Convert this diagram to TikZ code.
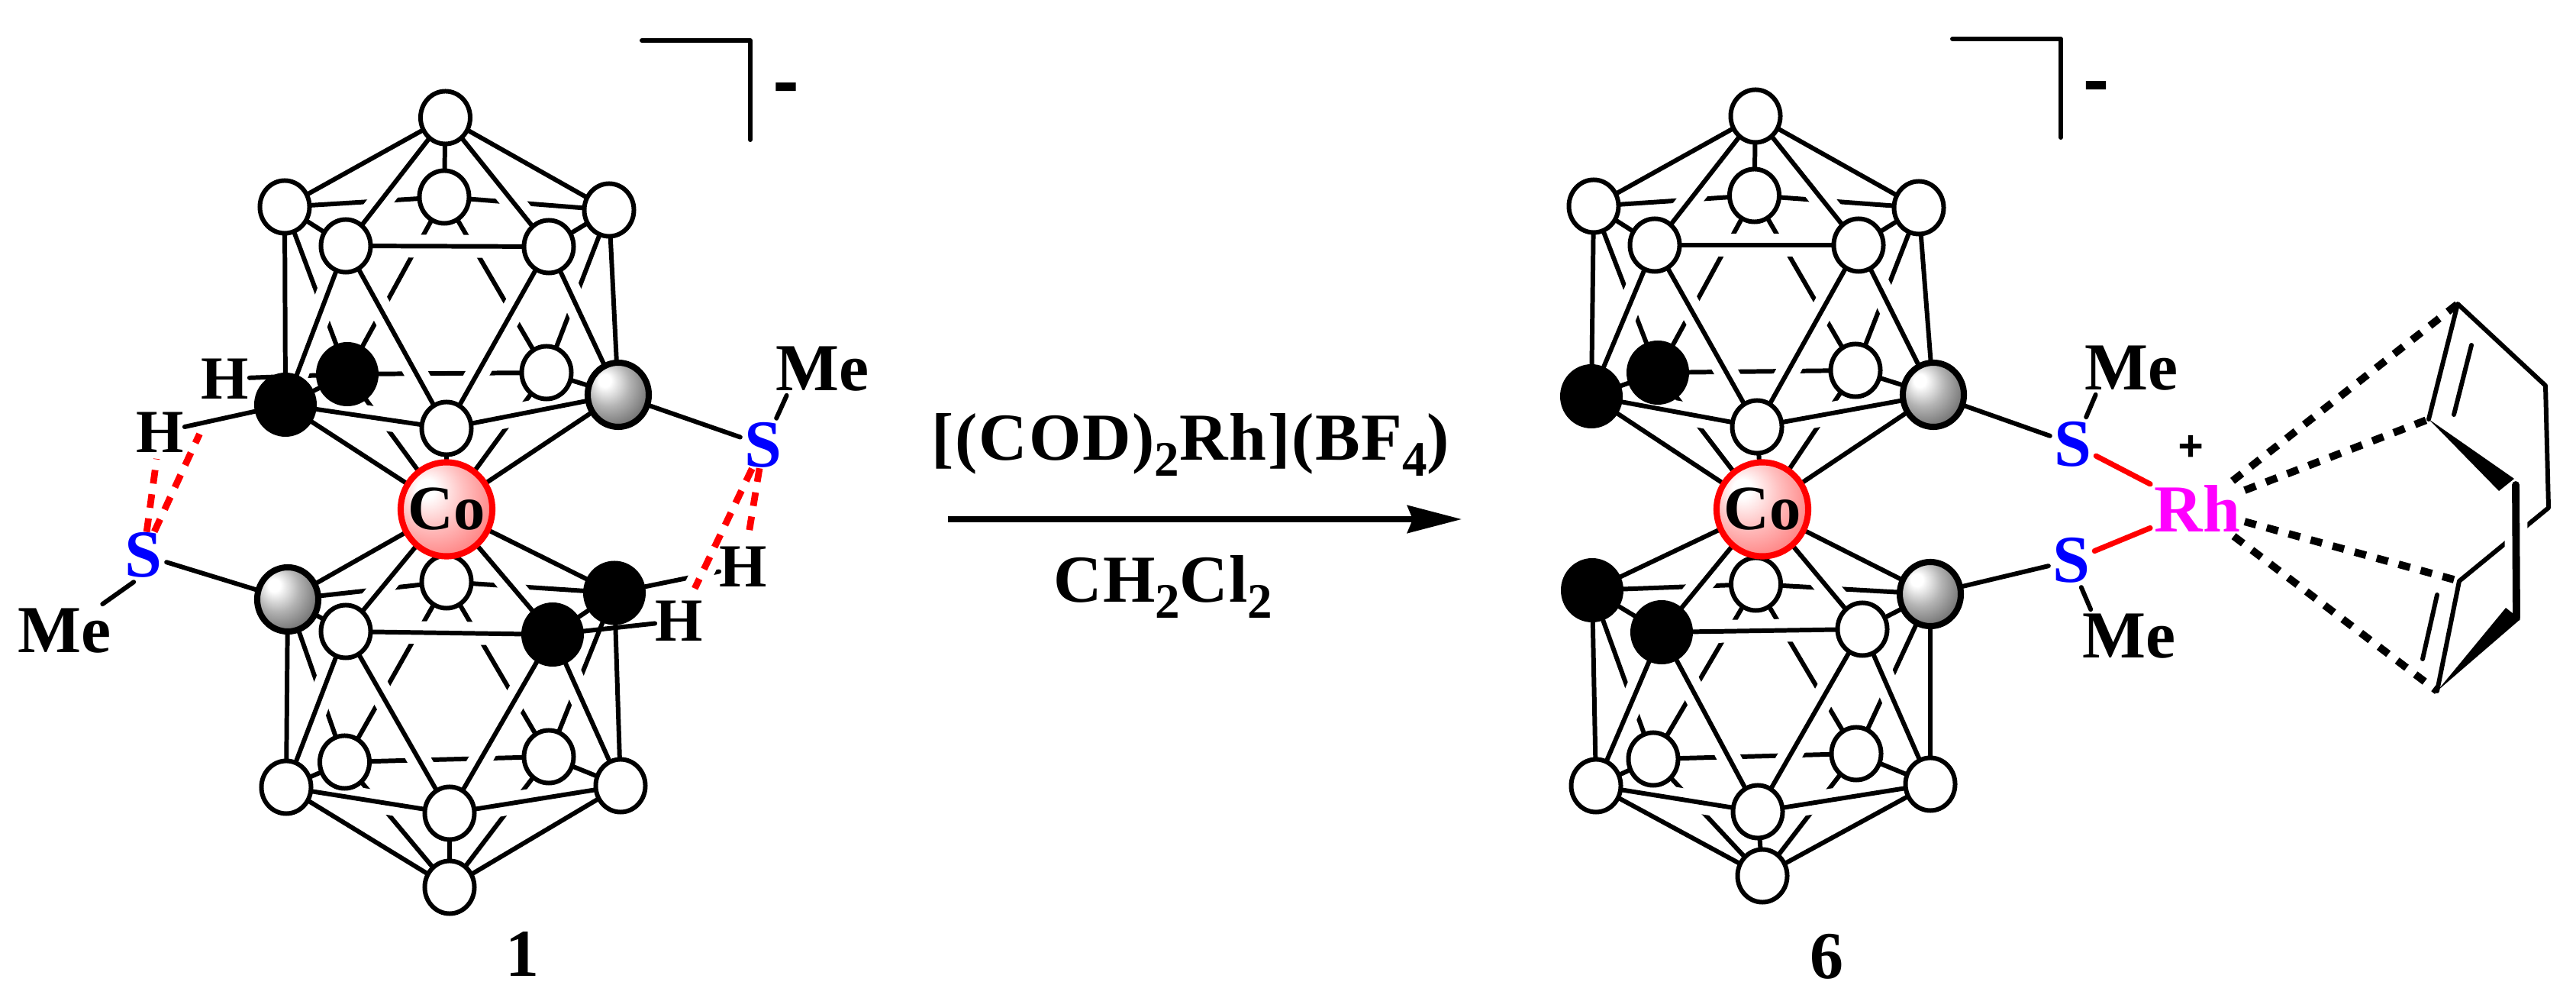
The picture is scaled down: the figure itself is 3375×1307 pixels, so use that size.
\documentclass[tikz,border=0pt]{standalone}
\usepackage{fontspec}
\setmainfont{Liberation Serif}
\usetikzlibrary{arrows.meta,backgrounds,shapes.geometric}

\definecolor{rhpink}{RGB}{255,0,255}
\definecolor{sblue}{RGB}{0,0,255}
\definecolor{bondred}{RGB}{255,0,0}
\pgfdeclareradialshading{greyball}{\pgfpoint{-12bp}{12bp}}{color(0bp)=(white); color(5bp)=(white); color(18bp)=(black!30); color(30bp)=(black!52); color(42bp)=(black!72); color(62bp)=(black!88)}
\pgfdeclareradialshading{redball}{\pgfpoint{-12bp}{12bp}}{color(0bp)=(white); color(5bp)=(white); color(18bp)=(bondred!25); color(32bp)=(bondred!48); color(48bp)=(bondred!68); color(62bp)=(bondred!80)}

\tikzset{
  atom/.style={ellipse,draw,fill=white,line width=1.7pt,inner sep=0pt,outer sep=0pt,
    minimum width=0.65cm,minimum height=0.69cm},
  blackatom/.style={atom,fill=black,minimum width=0.76cm,minimum height=0.78cm},
  greyatom/.style={atom,line width=2.3pt,shade,shading=greyball,minimum width=0.80cm,minimum height=0.84cm},
  coatom/.style={atom,draw=bondred,line width=2.3pt,shade,shading=redball,minimum width=1.20cm,minimum height=1.23cm},
  colbl/.style={font=\fontsize{23.5}{28}\selectfont\bfseries,inner sep=0pt},
  bond/.style={line width=1.7pt,line cap=round},
  halo/.style={line width=8.5pt,white},
  lbl/.style={font=\fontsize{25}{30}\selectfont\bfseries,inner sep=0.05cm},
  hlbl/.style={font=\fontsize{22.8}{27}\selectfont\bfseries,inner sep=0pt},
  heavylbl/.style={inner sep=0pt,font=\fontsize{#1}{#1}\selectfont\bfseries\addfontfeature{FakeBold=4}},
  sulfur/.style={lbl,text=sblue},
  hbridge/.style={line width=2.5pt,bondred,dash pattern=on 5.1pt off 4pt,shorten <=-0.05cm},
  rhbond/.style={line width=2.8pt,black,dash pattern=on 4.4pt off 4.1pt},
  redbond/.style={line width=2pt,line cap=round,bondred},
}

\newcommand{\cagebonds}[3]{
  \foreach \p/\q in {1/2,2/3,2/7,2/8,1/7,3/8,6/7,7/8,8/9}
    \draw[bond] (#1\p) -- (#1\q);
  \draw[bond] (#2) -- (#12);
  \draw[bond] (#3) -- (#17);
  \draw[bond] (#3) -- (#18);
  \foreach \p/\q in {5/4,5/6,5/0,4/0,4/9,6/0,9/0}
    \draw[halo] (#1\p) -- (#1\q);
  \draw[halo] (#2) -- (#15);
  \draw[halo] (#2) -- (#14);
  \foreach \p/\q in {5/4,5/6,5/0,4/0,4/9,6/0,9/0,1/5,3/4,1/6,3/9}
    \draw[bond] (#1\p) -- (#1\q);
  \foreach \p in {1,3,4,5}
    \draw[bond] (#2) -- (#1\p);
  \foreach \p in {6,9,0}
    \draw[bond] (#3) -- (#1\p);
}
\newcommand{\subnum}[1]{\raisebox{-0.23em}{\fontsize{18.5}{20}\selectfont #1}}

\begin{document}
\begin{tikzpicture}[x=0.01cm,y=-0.01cm]
  \useasboundingbox (0,0) rectangle (3375,1307);

  % complex 1, upper cage
  \node[atom] (at) at (583.5,154) {};
  \node[atom] (a1) at (373,271) {};
  \node[atom] (a2) at (582,258) {};
  \node[atom] (a3) at (798,275) {};
  \node[atom] (a4) at (719,323) {};
  \node[atom] (a5) at (453,322) {};
  \node[blackatom] (a7) at (455,490) {};
  \node[blackatom] (a6) at (374,530) {};
  \node[atom] (a8) at (716,488) {};
  \node[greyatom] (a9) at (810,517) {};
  \node[atom] (a0) at (585,561) {};
  % complex 1, lower cage
  \node[atom] (b2) at (585,762) {};
  \node[coatom] (coa) at (585,667) {};
  \node[colbl] (cola) at (585,667) {Co};
  \node[greyatom] (b1) at (377,785) {};
  \node[blackatom] (b3) at (805,776.5) {};
  \node[blackatom] (b4) at (724,831) {};
  \node[atom] (b5) at (453,827) {};
  \node[atom] (b6) at (375,1031) {};
  \node[atom] (b7) at (451.5,998) {};
  \node[atom] (b8) at (719,991) {};
  \node[atom] (b9) at (813,1029) {};
  \node[atom] (b0) at (589,1065) {};
  \node[atom] (bb) at (589,1162) {};
  % complex 6, upper cage
  \node[atom] (ct) at (2300,152) {};
  \node[atom] (c1) at (2088,270) {};
  \node[atom] (c2) at (2298.5,256) {};
  \node[atom] (c3) at (2514,272) {};
  \node[atom] (c4) at (2435,321) {};
  \node[atom] (c5) at (2168,321) {};
  \node[blackatom] (c7) at (2172,488) {};
  \node[blackatom] (c6) at (2085,519) {};
  \node[atom] (c8) at (2431,485) {};
  \node[greyatom] (c9) at (2533,517) {};
  \node[atom] (c0) at (2302,559) {};
  % complex 6, lower cage
  \node[atom] (d2) at (2300.5,765) {};
  \node[coatom] (cob) at (2309,667) {};
  \node[colbl] (colb) at (2309,667) {Co};
  \node[blackatom] (d1) at (2086,773) {};
  \node[greyatom] (d3) at (2529,778) {};
  \node[atom] (d4) at (2440,824) {};
  \node[blackatom] (d5) at (2177,828) {};
  \node[atom] (d6) at (2091,1029) {};
  \node[atom] (d7) at (2166,994) {};
  \node[atom] (d8) at (2432,987) {};
  \node[atom] (d9) at (2529,1027) {};
  \node[atom] (d0) at (2303,1063) {};
  \node[atom] (db) at (2309,1147) {};

  % labels of 1
  \node[hlbl] (ha) at (295,496) {H};
  \node[hlbl] (hb) at (210,566) {H};
  \node[hlbl] (hc) at (974,742) {H};
  \node[hlbl] (hd) at (890,813) {H};
  \node[sulfur] (sa) at (188,727) {S};
  \node[sulfur] (sb) at (1000,583) {S};
  \node[lbl] (mea) at (84.5,826) {Me};
  \node[lbl] (meb) at (1077,483) {Me};
  \node[heavylbl=25] (chga) at (1029.5,122) {-};
  \node[lbl] (numa) at (684,1249) {1};
  % labels of 6
  \node[sulfur] (sc) at (2716,581.5) {S};
  \node[sulfur] (sd) at (2714,734) {S};
  \node[lbl] (mec) at (2792,482) {Me};
  \node[lbl] (med) at (2789,833) {Me};
  \node[lbl,text=rhpink] (rh) at (2879,666) {Rh};
  \node[heavylbl=16] (plus) at (2870,587) {+};
  \node[heavylbl=25] (chgb) at (2746,120) {-};
  \node[lbl] (numb) at (2393,1253) {6};
  % reaction
  \node[lbl,anchor=base] (rgta) at (1560,603) {\addfontfeature{LetterSpace=2}[(COD)\subnum{2}Rh](BF\subnum{4})};
  \node[lbl,anchor=base] (rgtb) at (1524,789) {\addfontfeature{LetterSpace=1}CH\subnum{2}Cl\subnum{2}};
  \coordinate (arra) at (1242,680);
  \coordinate (arrb) at (1915,680);

  % cycloocta-1,5-diene
  \coordinate (da) at (3220,398);
  \coordinate (db1) at (3182,549);
  \coordinate (db2) at (3274,643);
  \coordinate (db3) at (3294,627);
  \coordinate (dc) at (3335,505);
  \coordinate (dd) at (3339,665);
  \coordinate (de) at (3296,635);
  \coordinate (df) at (3297,809);
  \coordinate (dg) at (3222,761);
  \coordinate (dh) at (3193,905);
  \coordinate (di) at (3283,796);
  \coordinate (dj) at (3302,811);
  \coordinate (dk) at (3238,452);
  \coordinate (dl) at (3215,543);
  \coordinate (dm) at (3193,779);
  \coordinate (dn) at (3174,863);

  \begin{scope}[on background layer]
    \draw[bond] (ha) -- (a7);
    \draw[bond] (b3) -- (hc);
    \draw[bond] (b4) -- (hd);
    \draw[bond] (a6) -- (hb);
    \cagebonds{a}{at}{coa}
    \cagebonds{b}{coa}{bb}
    \cagebonds{c}{ct}{cob}
    \cagebonds{d}{cob}{db}
    \draw[bond] (a9) -- (sb);
    \draw[bond] (b1) -- (sa);
    \draw[bond] (c9) -- (sc);
    \draw[bond] (d3) -- (sd);
    \draw[bond] (sa.-110) -- (mea.35);
    \draw[bond] (sb.64) -- (meb.217);
    \draw[bond] (sc.64) -- (mec.217);
    \draw[bond] (sd.-70) -- (med.145);
    \draw[halo] (sb) -- (hd);
    \draw[hbridge,shorten >=0.08cm] (sa) -- (hb);
    \draw[hbridge,shorten >=0.5cm] (sa) -- (ha);
    \draw[hbridge,shorten >=0.12cm] (sb) -- (hc);
    \draw[hbridge,shorten >=0.17cm] (sb) -- (hd);
    \draw[redbond] (sc) -- (rh);
    \draw[redbond] (sd) -- (rh);
    \draw[rhbond] (rh) -- (da);
    \draw[rhbond] (rh) -- (db1);
    \draw[rhbond] (rh) -- (dg);
    \draw[rhbond] (rh) -- (dh);
    \draw[bond,line join=round] (db1) -- (da) -- (dc) -- (dd) -- (dg) -- (dh);
    \draw[halo] (de) -- (df);
    \draw[line width=2.8pt,line cap=round] (de) -- (df);
    \fill (db1) -- (db2) -- (db3) -- cycle;
    \fill (dh) -- (di) -- (dj) -- cycle;
    \draw[bond] (dk) -- (dl);
    \draw[bond] (dm) -- (dn);
  \end{scope}

  \draw[bond,line join=round] (841,53) -- (983,53) -- (983,183);
  \draw[bond,line join=round] (2558,51) -- (2700,51) -- (2700,180);
  \draw[line width=2pt,-{Stealth[length=0.71cm,width=0.36cm,inset=0.07cm]}] (arra) -- (arrb);
\end{tikzpicture}
\end{document}
